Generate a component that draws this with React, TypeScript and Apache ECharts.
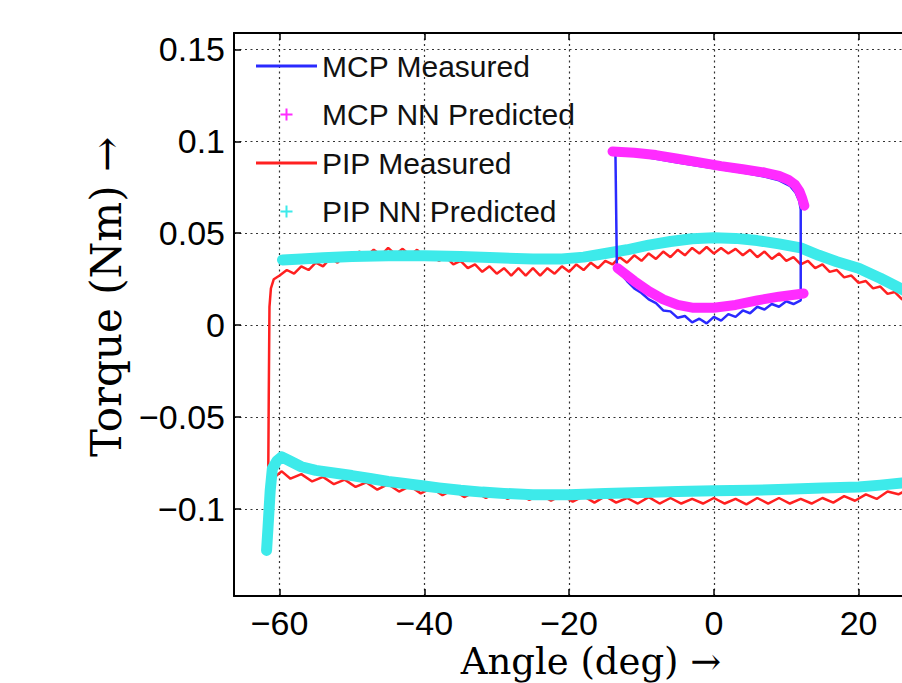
import React, { useEffect, useRef } from "react";
import * as echarts from "echarts";

// ---- axis ticks / limits ----
const X_TICKS = [-60, -40, -20, 0, 20];
const Y_TICKS = [-0.1, -0.05, 0, 0.05, 0.1, 0.15];
const X_MIN = -66.3;
const X_MAX = 30;
const Y_MIN = -0.1473;
const Y_MAX = 0.1589;

const NAMES = ["MCP Measured", "MCP NN Predicted", "PIP Measured", "PIP NN Predicted"];

// ---- MCP measured (blue loop) ----
const mcpMeasured: [number, number][] = [
  [-13.6, 0.094], [-11, 0.0925], [-8, 0.0905], [-5, 0.0885], [-2, 0.0865], [1, 0.0848],
  [4, 0.083], [7, 0.0808], [9, 0.0788], [10.5, 0.0758], [11.3, 0.072], [11.8, 0.0675], [12.0, 0.063],
  [12.0, 0.0135], [11, 0.0115], [10, 0.013], [9, 0.01], [8, 0.0115], [7, 0.0085], [6, 0.01],
  [5, 0.0065], [4, 0.008], [3, 0.0045], [2, 0.006], [1, 0.0025], [0, 0.0045], [-1, 0.001],
  [-2, 0.0035], [-3, 0.0015], [-4, 0.005], [-5, 0.004], [-6, 0.0075], [-7, 0.008], [-8, 0.012],
  [-9, 0.014], [-10, 0.0175], [-11, 0.02], [-12, 0.024], [-13, 0.0285], [-13.4, 0.031], [-13.6, 0.094],
];

// ---- MCP NN predicted (magenta) ----
const mcpPredTop: [number, number][] = [
  [-14, 0.0945], [-11, 0.0938], [-8, 0.0925], [-5, 0.0905], [-2, 0.0885], [1, 0.0865], [4, 0.0848],
  [7, 0.083], [9, 0.0812], [10.3, 0.079], [11.2, 0.0765], [11.8, 0.073], [12.2, 0.069], [12.5, 0.065],
];
const mcpPredBottom: [number, number][] = [
  [-13.3, 0.031], [-11, 0.024], [-9, 0.0185], [-7, 0.014], [-5, 0.011], [-3, 0.0095], [0, 0.0095],
  [3, 0.011], [6, 0.0135], [9, 0.0155], [12.4, 0.0172],
];

// ---- PIP measured (red loop) ----
const pipMeasured: [number, number][] = [
  // lower branch, right to left
  [30, -0.089], [28.5, -0.0915], [27, -0.089], [25.5, -0.092], [24, -0.0905], [22.5, -0.0945],
  [21, -0.092], [19.5, -0.0955], [18, -0.093], [16.5, -0.0965], [15, -0.094], [13.5, -0.097],
  [12, -0.0945], [10.5, -0.097], [9, -0.094], [7.5, -0.097], [6, -0.094], [4.5, -0.0975],
  [3, -0.0945], [1.5, -0.097], [0, -0.094], [-1.5, -0.097], [-3, -0.0945], [-4.5, -0.097],
  [-6, -0.094], [-7.5, -0.097], [-9, -0.0935], [-10.5, -0.097], [-12, -0.094], [-13.5, -0.0965],
  [-15, -0.093], [-16.5, -0.0965], [-18, -0.093], [-19.5, -0.096], [-21, -0.0925], [-22.5, -0.0955],
  [-24, -0.092], [-25.5, -0.095], [-27, -0.0915], [-28.5, -0.0945], [-30, -0.091], [-31.5, -0.094],
  [-33, -0.0905], [-34.5, -0.0935], [-36, -0.0895], [-37.5, -0.0925], [-39, -0.0885], [-40.5, -0.0915],
  [-42, -0.0875], [-43.5, -0.0905], [-45, -0.0865], [-46.5, -0.0895], [-48, -0.0855], [-49.5, -0.088],
  [-51, -0.084], [-52.5, -0.0865], [-54, -0.0825], [-55.5, -0.085], [-57, -0.081], [-58.5, -0.0835],
  [-59.7, -0.0795], [-60.8, -0.083], [-61.4, -0.095], [-61.7, -0.125],
  // reversal at minimum angle
  [-61.6, -0.1], [-61.5, -0.04], [-61.4, 0.01], [-61.2, 0.02], [-60.8, 0.025], [-60, 0.027],
  // upper branch, left to right
  [-59, 0.03], [-58, 0.028], [-57, 0.032], [-56, 0.03], [-55, 0.034], [-54, 0.032], [-53, 0.0365],
  [-52, 0.034], [-51, 0.038], [-50, 0.036], [-49, 0.04], [-48, 0.0375], [-47, 0.041], [-46, 0.038],
  [-45, 0.042], [-44, 0.0385], [-43, 0.0415], [-42, 0.038], [-41, 0.041], [-40, 0.037], [-39, 0.039],
  [-38, 0.035], [-37, 0.037], [-36, 0.033], [-35, 0.035], [-34, 0.031], [-33, 0.033], [-32, 0.029],
  [-31, 0.032], [-30, 0.028], [-29, 0.031], [-28, 0.027], [-27, 0.031], [-26, 0.027], [-25, 0.031],
  [-24, 0.027], [-23, 0.031], [-22, 0.028], [-21, 0.032], [-20, 0.029], [-19, 0.033], [-18, 0.03],
  [-17, 0.034], [-16, 0.031], [-15, 0.035], [-14, 0.033], [-13, 0.037], [-12, 0.034], [-11, 0.038],
  [-10, 0.035], [-9, 0.039], [-8, 0.036], [-7, 0.04], [-6, 0.037], [-5, 0.041], [-4, 0.038],
  [-3, 0.042], [-2, 0.039], [-1, 0.0425], [0, 0.039], [1, 0.042], [2, 0.039], [3, 0.0415],
  [4, 0.038], [5, 0.041], [6, 0.037], [7, 0.04], [8, 0.036], [9, 0.039], [10, 0.035], [11, 0.037],
  [12, 0.033], [13, 0.035], [14, 0.031], [15, 0.033], [16, 0.029], [17, 0.03], [18, 0.026],
  [19, 0.027], [20, 0.023], [21, 0.024], [22, 0.02], [23, 0.021], [24, 0.017], [25, 0.018],
  [26, 0.014], [27, 0.015], [28, 0.011], [30, 0.009],
];

// ---- PIP NN predicted (cyan) ----
const pipPredUpper: [number, number][] = [
  [-59.6, 0.0355], [-57, 0.036], [-54, 0.0367], [-50, 0.0373], [-45, 0.0377], [-40, 0.0377],
  [-35, 0.0373], [-30, 0.0366], [-25, 0.036], [-21, 0.036], [-18, 0.037], [-15, 0.039], [-12, 0.041],
  [-9, 0.0435], [-6, 0.0455], [-3, 0.047], [0, 0.0475], [3, 0.0472], [6, 0.046], [9, 0.0442],
  [12, 0.042], [14.5, 0.038], [17, 0.0345], [20, 0.031], [23, 0.0255], [26, 0.0195], [28, 0.0155], [30, 0.012],
];
const pipPredLower: [number, number][] = [
  [-61.8, -0.1225], [-61.6, -0.11], [-61.3, -0.09], [-61, -0.078], [-60.4, -0.074], [-59.7, -0.0716],
  [-58.5, -0.074], [-57, -0.077], [-55, -0.079], [-52, -0.0807], [-50, -0.0818], [-47.5, -0.0834],
  [-45, -0.085], [-43, -0.086], [-40, -0.0875], [-38, -0.0885], [-35, -0.0898], [-32, -0.0908],
  [-29, -0.0915], [-25, -0.0922], [-20, -0.0922], [-15, -0.0915], [-10, -0.091], [-5, -0.0905],
  [0, -0.09], [5, -0.0898], [10, -0.0893], [15, -0.0885], [20, -0.088], [23, -0.087], [26, -0.0858], [30, -0.084],
];

const BLUE = "#2a2aff";
const MAGENTA = "#ff2bff";
const RED = "#ff2020";
const CYAN = "#3deaea";

const LINE_ICON = "path://M0,0H61V3H0Z";
const PLUS_ICON = "path://M5,0H7V5H12V7H7V12H5V7H0V5H5Z";

const fmt = (v: number) => String(v).replace("-", "\u2212");

export default function App() {
  const ref = useRef<HTMLDivElement>(null);
  useEffect(() => {
    if (!ref.current) return;
    const chart = echarts.init(ref.current, null, { renderer: "svg" });
    const grid = "#333";
    const tickFont = { fontFamily: "Liberation Sans", fontSize: 34, color: "#000" };
    chart.setOption({
      animation: false,
      backgroundColor: "#fff",
      grid: { left: 234, top: 33, width: 697, height: 563, show: false },
      legend: {
        orient: "vertical",
        left: 256,
        top: 51,
        padding: 0,
        itemGap: 18.5,
        itemWidth: 61,
        itemHeight: 12,
        selectedMode: false,
        textStyle: { fontFamily: "Liberation Sans", fontSize: 30, color: "#111" },
        data: [
          { name: NAMES[0], icon: LINE_ICON, itemStyle: { color: BLUE } },
          { name: NAMES[1], icon: PLUS_ICON, itemStyle: { color: MAGENTA } },
          { name: NAMES[2], icon: LINE_ICON, itemStyle: { color: RED } },
          { name: NAMES[3], icon: PLUS_ICON, itemStyle: { color: CYAN } },
        ],
      },
      xAxis: [
        {
          type: "value",
          min: X_MIN,
          max: X_MAX,
          position: "bottom",
          axisLine: { show: true, onZero: false, lineStyle: { color: "#000", width: 2 } },
          axisTick: { show: true, inside: true, length: 7, customValues: X_TICKS, lineStyle: { color: "#000", width: 1.5 } },
          axisLabel: { customValues: X_TICKS, formatter: fmt, margin: 10, ...tickFont },
          splitLine: { show: true, lineStyle: { type: [2, 3.5], color: grid, width: 1.2 } },
        },
        {
          type: "value",
          min: X_MIN,
          max: X_MAX,
          position: "top",
          axisLine: { show: true, onZero: false, lineStyle: { color: "#000", width: 2 } },
          axisTick: { show: true, inside: true, length: 7, customValues: X_TICKS, lineStyle: { color: "#000", width: 1.5 } },
          axisLabel: { show: false },
          splitLine: { show: false },
        },
      ],
      yAxis: [
        {
          type: "value",
          min: Y_MIN,
          max: Y_MAX,
          position: "left",
          axisLine: { show: true, onZero: false, lineStyle: { color: "#000", width: 2 } },
          axisTick: { show: true, inside: true, length: 7, customValues: Y_TICKS, lineStyle: { color: "#000", width: 1.5 } },
          axisLabel: { customValues: Y_TICKS, formatter: fmt, margin: 9, ...tickFont },
          splitLine: { show: true, lineStyle: { type: [2, 3.5], color: grid, width: 1.2 } },
        },
      ],
      graphic: [
        {
          type: "text",
          x: 591,
          y: 661,
          style: { text: "Angle (deg) \u2192", fontFamily: "DejaVu Serif", fontSize: 37, fill: "#000", align: "center", verticalAlign: "middle" },
        },
        {
          type: "text",
          x: 106,
          y: 297,
          rotation: Math.PI / 2,
          style: { text: "Torque (Nm) \u2192", fontFamily: "DejaVu Serif", fontSize: 42, fill: "#000", align: "center", verticalAlign: "middle" },
        },
      ],
      series: [
        {
          name: NAMES[2], type: "line", data: pipMeasured, symbol: "none", z: 2,
          lineStyle: { color: RED, width: 2.5 }, itemStyle: { color: RED },
        },
        {
          name: NAMES[3], type: "line", data: pipPredUpper, symbol: "none", z: 3,
          lineStyle: { color: CYAN, width: 11, cap: "round", join: "round" }, itemStyle: { color: CYAN },
        },
        {
          name: NAMES[3], type: "line", data: pipPredLower, symbol: "none", z: 3,
          lineStyle: { color: CYAN, width: 11, cap: "round", join: "round" }, itemStyle: { color: CYAN },
        },
        {
          name: NAMES[0], type: "line", data: mcpMeasured, symbol: "none", z: 4,
          lineStyle: { color: BLUE, width: 2.5 }, itemStyle: { color: BLUE },
        },
        {
          name: NAMES[1], type: "line", data: mcpPredTop, symbol: "none", z: 5,
          lineStyle: { color: MAGENTA, width: 10, cap: "round", join: "round" }, itemStyle: { color: MAGENTA },
        },
        {
          name: NAMES[1], type: "line", data: mcpPredBottom, symbol: "none", z: 5,
          lineStyle: { color: MAGENTA, width: 10, cap: "round", join: "round" }, itemStyle: { color: MAGENTA },
        },
      ],
    });
    return () => chart.dispose();
  }, []);
  return (
    <div style={{ position: "absolute", left: 0, top: 0, width: 902, height: 683, overflow: "hidden", background: "#fff" }}>
      <div ref={ref} style={{ width: 960, height: 683 }} />
    </div>
  );
}
